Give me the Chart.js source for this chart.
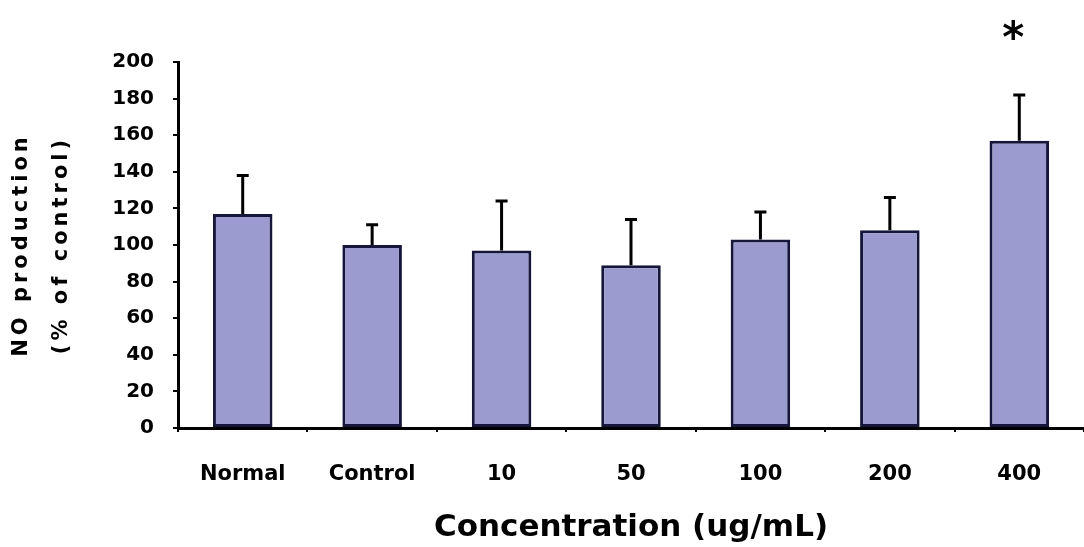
<!DOCTYPE html>
<html>
<head>
<meta charset="utf-8">
<script src="https://cdn.jsdelivr.net/npm/chart.js@4/dist/chart.umd.min.js"></script>
<style>
  html, body { margin: 0; padding: 0; background: #fff; }
  canvas { display: block; }
</style>
</head>
<body>
<canvas id="chart" width="1084" height="547"></canvas>
<script>
const categories = ["Normal", "Control", "10", "50", "100", "200", "400"];
const means = [117, 100, 97, 89, 103, 108, 157];
const errors = [21, 11, 27, 25, 15, 18, 25];
const marks = ["", "", "", "", "", "", "*"];
const yTitle = ["NO production", "(% of control)"];
const xTitle = "Concentration (ug/mL)";

const FONT = "'DejaVu Sans', 'Liberation Sans', sans-serif";

// error bars + significance star drawn over each bar
const errorBarPlugin = {
  id: "errorBars",
  afterDatasetsDraw(chart) {
    const ctx = chart.ctx;
    const y = chart.scales.y;
    const bars = chart.getDatasetMeta(0).data;
    ctx.save();
    ctx.strokeStyle = "#000";
    ctx.lineWidth = 3;
    bars.forEach((bar, i) => {
      const top = y.getPixelForValue(means[i] + errors[i]);
      ctx.beginPath();
      ctx.moveTo(bar.x, bar.y);
      ctx.lineTo(bar.x, top);
      ctx.moveTo(bar.x - 6, top);
      ctx.lineTo(bar.x + 6, top);
      ctx.stroke();
      if (marks[i]) {
        ctx.fillStyle = "#000";
        ctx.font = "bold 42px " + FONT;
        ctx.textAlign = "center";
        ctx.textBaseline = "middle";
        ctx.fillText(marks[i], bar.x - 6, top - 54);
      }
    });
    ctx.restore();
  }
};

// y title: two rotated lines, spaced out like the original
const yTitlePlugin = {
  id: "yTitle",
  afterDraw(chart) {
    const ctx = chart.ctx;
    const area = chart.chartArea;
    const cy = (area.top + area.bottom) / 2;
    const xs = [22, 62];
    ctx.save();
    ctx.fillStyle = "#000";
    ctx.font = "bold 21px " + FONT;
    ctx.letterSpacing = "4px";
    ctx.textAlign = "center";
    ctx.textBaseline = "middle";
    yTitle.forEach((t, i) => {
      ctx.save();
      ctx.translate(xs[i], cy);
      ctx.rotate(-Math.PI / 2);
      ctx.fillText(t, 0, 0);
      ctx.restore();
    });
    ctx.restore();
  }
};

new Chart(document.getElementById("chart"), {
  type: "bar",
  data: {
    labels: categories,
    datasets: [
      {
        data: means,
        backgroundColor: "#9b9bcf",
        borderColor: "#16163a",
        borderWidth: 3,
        borderSkipped: false,
        barPercentage: 0.46,
        categoryPercentage: 1.0
      }
    ]
  },
  options: {
    responsive: false,
    devicePixelRatio: 1,
    animation: false,
    layout: { padding: { top: 62, right: 0, bottom: 0, left: 0 } },
    plugins: {
      legend: { display: false },
      tooltip: { enabled: false }
    },
    scales: {
      x: {
        offset: true,
        grid: {
          display: true,
          drawOnChartArea: false,
          offset: true,
          color: "#000",
          lineWidth: 2,
          tickLength: 4
        },
        border: { display: true, color: "#000", width: 3 },
        ticks: {
          color: "#000",
          font: { family: FONT, size: 21, weight: "bold" },
          padding: 30,
          maxRotation: 0
        },
        title: {
          display: true,
          text: xTitle,
          color: "#000",
          font: { family: FONT, size: 31, weight: "bold" },
          padding: { top: 0, bottom: 0 }
        },
        afterFit(scale) { scale.height = 119; }
      },
      y: {
        min: 0,
        max: 200,
        ticks: {
          stepSize: 20,
          color: "#000",
          font: { family: FONT, size: 20, weight: "bold" },
          padding: 19
        },
        grid: {
          display: true,
          drawOnChartArea: false,
          color: "#000",
          lineWidth: 2,
          tickLength: 5
        },
        border: { display: true, color: "#000", width: 3 },
        afterFit(scale) { scale.width = 178; }
      }
    }
  },
  plugins: [errorBarPlugin, yTitlePlugin]
});
</script>
</body>
</html>
